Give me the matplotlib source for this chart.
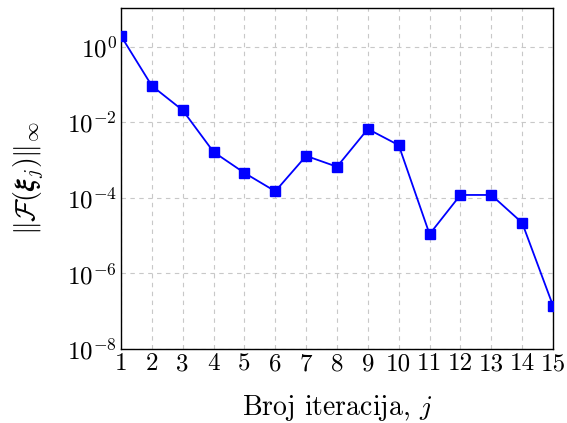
import matplotlib
matplotlib.use("Agg")
import matplotlib.pyplot as plt
import numpy as np
from matplotlib.ticker import LogLocator, NullLocator

# iteration number and residual norm
iters = list(range(1, 16))
residual = [1.95, 9.3e-2, 2.1e-2, 1.65e-3, 4.6e-4, 1.5e-4, 1.3e-3, 6.7e-4,
            6.7e-3, 2.5e-3, 1.1e-5, 1.2e-4, 1.2e-4, 2.2e-5, 1.4e-7]
xtick_labels = [str(i) for i in iters]

plt.rcParams['font.family'] = 'serif'
plt.rcParams['font.serif'] = ['cmr10']
plt.rcParams['mathtext.fontset'] = 'cm'
plt.rcParams['axes.unicode_minus'] = False
plt.rcParams['axes.formatter.use_mathtext'] = True

fig = plt.figure(figsize=(5.67, 4.23), dpi=100)
ax = fig.add_axes([121/567, 1-349/423, (553-121)/567, (349-8)/423])
ax.plot(iters, residual, color='blue', linewidth=1.3, marker='s',
        markersize=7.5, zorder=3)
ax.set_yscale('log')
ax.set_xlim(1, 15)
ax.set_ylim(1e-8, 10**1.03)
ax.set_xticks(iters, xtick_labels)
ax.yaxis.set_major_locator(LogLocator(base=100))
ax.yaxis.set_minor_locator(NullLocator())
ax.grid(True, color='#c8c8c8', linestyle=(0, (4, 4)), linewidth=0.8)
ax.tick_params(length=0, labelsize=18, pad=3)
for s in ax.spines.values():
    s.set_linewidth(1.0)
ax.set_xlabel('Broj iteracija, $j$', fontsize=20, labelpad=13)
ax.set_ylabel(r'$\Vert\mathcal{F}(\boldsymbol{\xi}_j)\Vert_\infty$', fontsize=20, labelpad=14)
fig.savefig('out.png', dpi=100)
